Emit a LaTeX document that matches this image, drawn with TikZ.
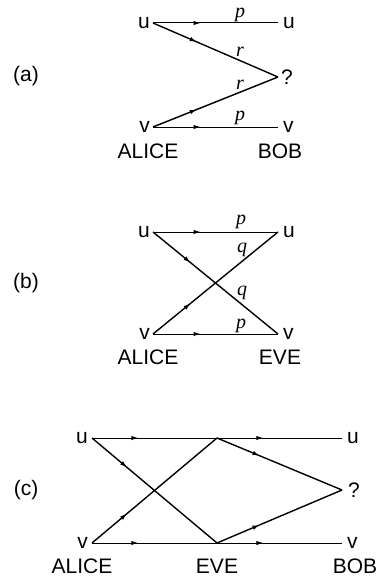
\documentclass[tikz,border=0pt]{standalone}
\usepackage{fontspec}
\setmainfont{Liberation Sans}
\newfontfamily\wfont{Liberation Serif}
\usetikzlibrary{arrows.meta,decorations.markings}
\tikzset{
  txt/.style={inner sep=0pt, font=\fontsize{21}{25}\selectfont},
  wgt/.style={inner sep=0pt, font=\wfont\itshape\fontsize{20}{24}\selectfont},
  hline/.style={line width=1pt},
  dline/.style={line width=1.4pt},
  arr/.style={postaction={decorate},
    decoration={markings, mark=at position #1 with {\arrow{Latex[length=7pt,width=4.5pt]}}}},
}
\begin{document}
\begin{tikzpicture}[x=1pt,y=-1pt]
\useasboundingbox (0,0) rectangle (379,578);

% ---------- (a) ----------
\coordinate (a-u1) at (153,23);
\coordinate (a-u2) at (278,23);
\coordinate (a-q)  at (278,77);
\coordinate (a-v1) at (153,127);
\coordinate (a-v2) at (278,127);
\node[txt, anchor=east] (a-lu) at ([xshift=-3pt]a-u1) {u};
\node[txt, anchor=west] (a-ru) at ([xshift=5pt]a-u2) {u};
\node[txt, anchor=west] (a-rq) at ([xshift=3pt]a-q) {?};
\node[txt, anchor=east] (a-lv) at ([xshift=-3pt]a-v1) {v};
\node[txt, anchor=west] (a-rv) at ([xshift=5pt]a-v2) {v};
\node[txt] (a-alice) at (148,151) {ALICE};
\node[txt] (a-bob) at (280,151) {BOB};
\node[txt] (a-tag) at (26,76) {(a)};
\draw[hline, arr=0.38] (a-u1) -- (a-u2);
\draw[dline, arr=0.35] (a-u1) -- (a-q);
\draw[dline, arr=0.35] (a-v1) -- (a-q);
\draw[hline, arr=0.38] (a-v1) -- (a-v2);
\node[wgt] (a-p1) at (240,15) {p};
\node[wgt] (a-r1) at (240,52) {r};
\node[wgt] (a-r2) at (240,85) {r};
\node[wgt] (a-p2) at (240,118) {p};

% ---------- (b) ----------
\coordinate (b-u1) at (153,232);
\coordinate (b-u2) at (278,232);
\coordinate (b-v1) at (153,334);
\coordinate (b-v2) at (278,334);
\node[txt, anchor=east] (b-lu) at ([xshift=-3pt]b-u1) {u};
\node[txt, anchor=west] (b-ru) at ([xshift=5pt]b-u2) {u};
\node[txt, anchor=east] (b-lv) at ([xshift=-3pt]b-v1) {v};
\node[txt, anchor=west] (b-rv) at ([xshift=5pt]b-v2) {v};
\node[txt] (b-alice) at (148,357) {ALICE};
\node[txt] (b-eve) at (280,357) {EVE};
\node[txt] (b-tag) at (26,283) {(b)};
\draw[hline, arr=0.38] (b-u1) -- (b-u2);
\draw[dline, arr=0.30] (b-u1) -- (b-v2);
\draw[dline, arr=0.30] (b-v1) -- (b-u2);
\draw[hline, arr=0.38] (b-v1) -- (b-v2);
\node[wgt] (b-p1) at (241,222) {p};
\node[wgt] (b-q1) at (242,250) {q};
\node[wgt] (b-q2) at (242,293) {q};
\node[wgt] (b-p2) at (241,326) {p};

% ---------- (c) ----------
\coordinate (c-u1) at (92,438);
\coordinate (c-eu) at (217,438);
\coordinate (c-u2) at (342,438);
\coordinate (c-q)  at (342,490);
\coordinate (c-v1) at (92,543);
\coordinate (c-ev) at (217,543);
\coordinate (c-v2) at (342,543);
\node[txt, anchor=east] (c-lu) at ([xshift=-4pt]c-u1) {u};
\node[txt, anchor=west] (c-ru) at ([xshift=5pt]c-u2) {u};
\node[txt, anchor=west] (c-rq) at ([xshift=6pt]c-q) {?};
\node[txt, anchor=east] (c-lv) at ([xshift=-4pt]c-v1) {v};
\node[txt, anchor=west] (c-rv) at ([xshift=5pt]c-v2) {v};
\node[txt] (c-alice) at (82,566) {ALICE};
\node[txt] (c-eve) at (217,566) {EVE};
\node[txt] (c-bob) at (355,566) {BOB};
\node[txt] (c-tag) at (26,490) {(c)};
\draw[hline, arr=0.37] (c-u1) -- (c-eu);
\draw[hline, arr=0.37] (c-eu) -- (c-u2);
\draw[hline, arr=0.37] (c-v1) -- (c-ev);
\draw[hline, arr=0.37] (c-ev) -- (c-v2);
\draw[dline, arr=0.28] (c-u1) -- (c-ev);
\draw[dline, arr=0.28] (c-v1) -- (c-eu);
\draw[dline, arr=0.34] (c-eu) -- (c-q);
\draw[dline, arr=0.34] (c-ev) -- (c-q);
\end{tikzpicture}
\end{document}
